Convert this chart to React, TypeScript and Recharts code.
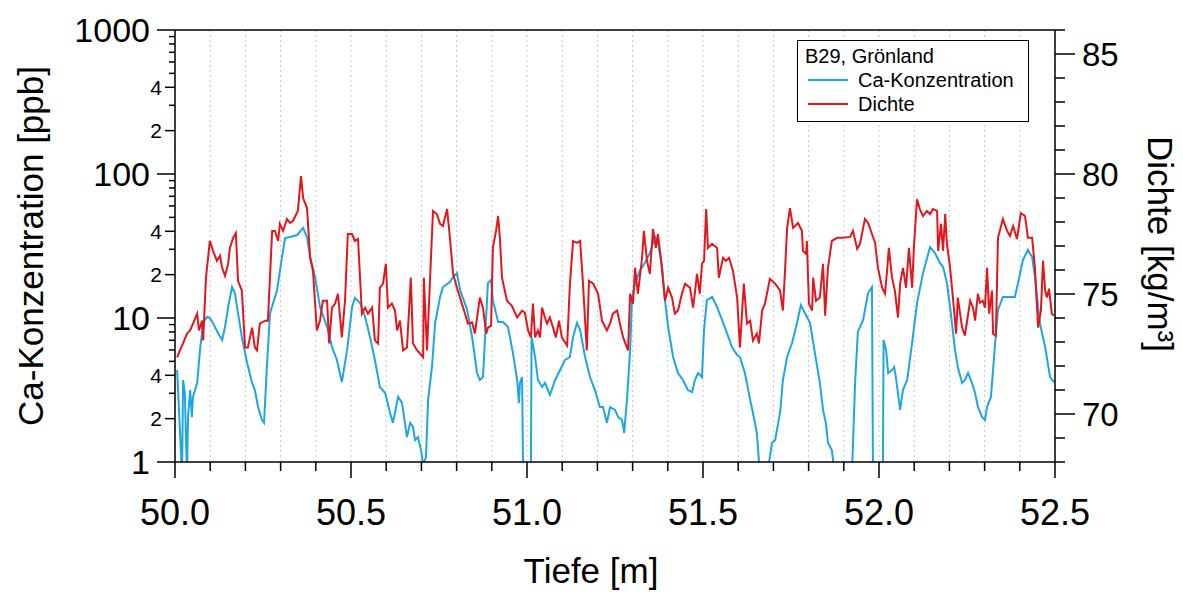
import React from 'react';
import { LineChart, Line, XAxis, YAxis, CartesianGrid, ReferenceLine, Legend, Label } from 'recharts';

// Ca concentration [ppb] vs depth [m] (values < 1 run off the bottom of the log axis)
const caDepth = [
  50.006, 50.020, 50.023, 50.028, 50.034, 50.037, 50.043, 50.048, 50.051, 50.063,
  50.071, 50.080, 50.091, 50.099, 50.108, 50.122, 50.134, 50.142, 50.151, 50.162,
  50.170, 50.179, 50.190, 50.205, 50.219, 50.227, 50.236, 50.247, 50.253, 50.261,
  50.270, 50.290, 50.304, 50.313, 50.327, 50.347, 50.364, 50.375, 50.384, 50.398,
  50.412, 50.432, 50.446, 50.460, 50.474, 50.489, 50.503, 50.511, 50.526, 50.540,
  50.554, 50.568, 50.582, 50.597, 50.611, 50.619, 50.634, 50.645, 50.653, 50.659,
  50.668, 50.676, 50.682, 50.690, 50.699, 50.705, 50.713, 50.719, 50.730, 50.739,
  50.753, 50.761, 50.781, 50.790, 50.801, 50.810, 50.830, 50.844, 50.858, 50.866,
  50.875, 50.881, 50.889, 50.898, 50.903, 50.918, 50.932, 50.946, 50.960, 50.972,
  50.977, 50.980, 50.986, 50.989, 51.011, 51.013, 51.023, 51.031, 51.043, 51.051,
  51.065, 51.080, 51.094, 51.108, 51.122, 51.131, 51.142, 51.151, 51.165, 51.179,
  51.193, 51.207, 51.216, 51.227, 51.236, 51.250, 51.259, 51.270, 51.276, 51.284,
  51.293, 51.298, 51.307, 51.321, 51.335, 51.349, 51.364, 51.372, 51.384, 51.392,
  51.401, 51.415, 51.429, 51.443, 51.457, 51.469, 51.477, 51.486, 51.497, 51.503,
  51.511, 51.526, 51.540, 51.554, 51.568, 51.582, 51.597, 51.605, 51.619, 51.634,
  51.642, 51.653, 51.662, 51.682, 51.696, 51.705, 51.710, 51.719, 51.727, 51.739,
  51.753, 51.767, 51.778, 51.790, 51.804, 51.818, 51.832, 51.841, 51.849, 51.855,
  51.866, 51.875, 51.923, 51.932, 51.940, 51.955, 51.969, 51.980, 51.983, 52.011,
  52.013, 52.020, 52.026, 52.037, 52.043, 52.048, 52.060, 52.068, 52.080, 52.094,
  52.108, 52.125, 52.145, 52.159, 52.173, 52.182, 52.193, 52.202, 52.216, 52.224,
  52.236, 52.244, 52.253, 52.264, 52.273, 52.281, 52.293, 52.301, 52.307, 52.318,
  52.330, 52.338, 52.352, 52.372, 52.386, 52.395, 52.409, 52.423, 52.435, 52.443,
  52.457, 52.472, 52.486, 52.497,
];
const caValue = [
  4.35, 0.8, 3.71, 3.01, 0.8, 2.05, 3.16, 2.05, 2.83, 3.54,
  6.0, 9.23, 10.2, 10.0, 9.2, 7.87, 7.03, 8.66, 11.9, 16.4,
  14.9, 10.8, 7.38, 4.87, 3.54, 3.16, 2.41, 1.96, 1.87, 4.57,
  10.8, 15.6, 26.5, 35.9, 36.5, 37.7, 42.2, 36.5, 26.5, 19.3,
  11.9, 8.66, 6.29, 5.11, 3.59, 6.0, 11.9, 13.8, 12.7, 10.2,
  7.38, 5.11, 3.32, 3.01, 2.19, 1.87, 2.83, 2.57, 1.87, 1.49,
  1.87, 1.75, 1.42, 1.49, 1.21, 0.95, 1.08, 2.7, 4.57, 9.23,
  14.0, 16.4, 17.8, 19.3, 20.5, 15.6, 11.4, 7.38, 4.15, 3.71,
  3.89, 7.38, 17.5, 18.4, 13.3, 9.38, 9.38, 8.66, 5.71, 3.71,
  2.57, 3.54, 3.89, 0.8, 0.8, 7.38, 5.36, 3.71, 3.32, 3.54,
  2.92, 3.71, 4.35, 5.11, 5.36, 7.38, 9.23, 8.25, 5.36, 3.89,
  3.16, 2.41, 2.41, 1.87, 2.41, 2.30, 2.05, 1.96, 1.59, 2.7,
  6.0, 13.3, 17.5, 21.5, 24.1, 28.3, 36.5, 33.2, 22.6, 13.3,
  8.66, 5.36, 4.15, 3.71, 3.16, 3.06, 3.71, 4.15, 3.89, 8.25,
  13.3, 14.0, 11.9, 9.69, 7.87, 6.29, 5.53, 5.36, 4.15, 2.7,
  2.19, 1.59, 0.8, 0.8, 1.36, 1.42, 1.67, 2.19, 3.71, 5.36,
  6.7, 9.23, 12.3, 10.8, 9.23, 5.71, 3.54, 2.30, 1.87, 1.36,
  1.21, 0.8, 0.8, 3.54, 8.0, 9.69, 14.9, 16.4, 0.8, 0.8,
  7.03, 6.0, 4.15, 4.35, 4.57, 3.89, 2.30, 3.16, 3.71, 6.7,
  12.7, 20.5, 31.1, 28.3, 24.1, 22.6, 17.5, 11.9, 6.0, 4.57,
  3.54, 3.71, 4.15, 3.54, 3.01, 2.41, 2.05, 1.96, 2.41, 2.83,
  6.7, 11.4, 14.0, 14.0, 14.0, 17.5, 25.3, 29.7, 26.5, 19.3,
  9.23, 6.29, 3.89, 3.59,
];

// Dichte [kg/m3] vs depth [m]
const dichteDepth = [
  50.006, 50.014, 50.023, 50.034, 50.043, 50.051, 50.063, 50.068, 50.077, 50.080,
  50.088, 50.099, 50.108, 50.119, 50.128, 50.134, 50.142, 50.151, 50.156, 50.165,
  50.173, 50.179, 50.190, 50.199, 50.207, 50.219, 50.227, 50.233, 50.241, 50.256,
  50.264, 50.276, 50.284, 50.293, 50.298, 50.307, 50.318, 50.327, 50.335, 50.349,
  50.358, 50.364, 50.375, 50.384, 50.392, 50.403, 50.412, 50.420, 50.432, 50.438,
  50.446, 50.455, 50.463, 50.474, 50.483, 50.491, 50.503, 50.511, 50.520, 50.531,
  50.540, 50.548, 50.560, 50.568, 50.577, 50.582, 50.591, 50.599, 50.605, 50.616,
  50.625, 50.631, 50.639, 50.648, 50.659, 50.670, 50.676, 50.688, 50.696, 50.705,
  50.707, 50.716, 50.724, 50.733, 50.744, 50.753, 50.761, 50.773, 50.781, 50.790,
  50.801, 50.815, 50.824, 50.832, 50.844, 50.852, 50.866, 50.875, 50.884, 50.889,
  50.898, 50.903, 50.912, 50.918, 50.923, 50.929, 50.943, 50.957, 50.972, 50.986,
  50.994, 51.003, 51.011, 51.017, 51.023, 51.031, 51.037, 51.043, 51.051, 51.057,
  51.065, 51.074, 51.082, 51.091, 51.099, 51.114, 51.122, 51.131, 51.142, 51.151,
  51.159, 51.170, 51.176, 51.188, 51.202, 51.213, 51.227, 51.236, 51.244, 51.256,
  51.264, 51.273, 51.284, 51.287, 51.293, 51.301, 51.307, 51.315, 51.327, 51.332,
  51.341, 51.349, 51.358, 51.366, 51.372, 51.381, 51.392, 51.401, 51.412, 51.420,
  51.429, 51.440, 51.449, 51.463, 51.472, 51.483, 51.491, 51.497, 51.503, 51.509,
  51.514, 51.526, 51.540, 51.545, 51.557, 51.565, 51.574, 51.585, 51.597, 51.605,
  51.616, 51.625, 51.634, 51.642, 51.653, 51.659, 51.668, 51.676, 51.690, 51.705,
  51.719, 51.727, 51.733, 51.739, 51.747, 51.756, 51.770, 51.781, 51.784, 51.793,
  51.795, 51.801, 51.810, 51.813, 51.821, 51.832, 51.841, 51.847, 51.855, 51.866,
  51.881, 51.898, 51.918, 51.926, 51.938, 51.946, 51.960, 51.969, 51.980, 51.989,
  51.997, 52.009, 52.017, 52.023, 52.028, 52.037, 52.045, 52.054, 52.060, 52.068,
  52.077, 52.085, 52.094, 52.099, 52.108, 52.116, 52.125, 52.136, 52.145, 52.153,
  52.165, 52.168, 52.176, 52.182, 52.188, 52.193, 52.202, 52.210, 52.219, 52.224,
  52.236, 52.244, 52.259, 52.267, 52.273, 52.281, 52.287, 52.295, 52.301, 52.307,
  52.313, 52.321, 52.324, 52.332, 52.338, 52.352, 52.364, 52.372, 52.381, 52.392,
  52.403, 52.415, 52.423, 52.435, 52.443, 52.452, 52.460, 52.466, 52.472, 52.477,
  52.483, 52.491, 52.497,
];
const dichteValue = [
  72.36, 72.65, 72.94, 73.35, 73.48, 73.77, 74.18, 73.48, 73.89, 73.06,
  75.68, 77.21, 76.80, 76.38, 76.59, 76.09, 75.76, 76.26, 76.92, 77.34,
  77.54, 75.55, 75.14, 72.77, 72.77, 73.60, 72.77, 72.65, 73.77, 73.89,
  73.89, 77.63, 77.63, 77.21, 77.92, 77.63, 78.12, 77.96, 78.04, 78.46,
  79.91, 79.0, 78.58, 76.51, 75.97, 73.48, 73.89, 74.72, 74.72, 72.94,
  74.43, 74.60, 75.01, 73.19, 74.72, 77.50, 77.50, 77.21, 77.29, 74.18,
  74.43, 74.18, 74.43, 73.06, 72.94, 75.26, 75.43, 76.26, 74.43, 74.60,
  74.31, 73.48, 73.89, 72.65, 72.77, 75.68, 72.94, 72.65, 72.52, 72.36,
  75.68, 72.65, 75.43, 78.46, 78.33, 77.92, 77.83, 78.54, 77.34, 75.84,
  75.26, 74.60, 74.18, 73.77, 73.81, 73.35, 74.85, 74.43, 73.35, 73.60,
  73.68, 76.92, 77.63, 78.25, 77.34, 75.68, 74.72, 74.51, 74.02, 74.31,
  74.22, 73.48, 73.19, 74.60, 73.19, 73.48, 73.19, 74.43, 74.02, 73.77,
  74.02, 73.60, 73.19, 73.89, 73.19, 72.85, 75.43, 77.21, 77.13, 77.21,
  75.43, 72.65, 75.55, 75.43, 75.01, 73.89, 73.48, 73.77, 74.18, 74.31,
  73.77, 73.19, 72.77, 72.65, 75.01, 74.60, 76.09, 75.01, 76.51, 77.63,
  76.38, 75.84, 77.71, 76.92, 77.50, 76.38, 74.72, 75.26, 74.85, 74.18,
  74.31, 75.01, 75.43, 75.26, 74.43, 75.84, 75.01, 76.26, 76.38, 78.54,
  76.92, 77.09, 76.92, 75.68, 76.51, 76.38, 76.51, 75.97, 74.85, 72.77,
  75.43, 73.77, 73.89, 73.06, 73.35, 72.94, 74.31, 74.60, 75.63, 75.43,
  75.14, 74.31, 75.97, 77.75, 78.58, 77.75, 77.96, 77.63, 76.80, 76.67,
  77.21, 74.60, 74.31, 75.68, 74.72, 74.85, 76.26, 74.10, 76.09, 77.21,
  77.34, 77.34, 77.38, 77.63, 76.88, 77.09, 78.12, 77.96, 77.50, 77.13,
  76.09, 75.26, 75.01, 75.97, 76.92, 75.68, 75.14, 74.02, 75.43, 76.09,
  75.26, 76.92, 75.26, 76.92, 78.95, 78.54, 78.25, 78.46, 78.33, 78.54,
  78.46, 76.80, 77.92, 76.80, 78.33, 77.09, 76.09, 74.85, 73.35, 74.85,
  73.60, 73.27, 74.72, 74.43, 73.89, 75.01, 74.64, 74.72, 74.43, 76.09,
  74.18, 75.14, 73.35, 73.27, 77.34, 78.12, 77.63, 77.42, 77.83, 77.29,
  78.37, 78.25, 77.34, 77.34, 76.09, 73.60, 74.31, 76.38, 75.14, 74.85,
  75.22, 74.18, 74.10,
];

const xTicks = [
  50.0, 50.1, 50.2, 50.3, 50.4, 50.5, 50.6, 50.7, 50.8, 50.9,
  51.0, 51.1, 51.2, 51.3, 51.4, 51.5, 51.6, 51.7, 51.8, 51.9,
  52.0, 52.1, 52.2, 52.3, 52.4, 52.5,
];
const caTicks = [
  1, 2, 3, 4, 5, 6, 7, 8, 9,
  10, 20, 30, 40, 50, 60, 70, 80, 90,
  100, 200, 300, 400, 500, 600, 700, 800, 900, 1000,
];
const caMajor = [1, 10, 100, 1000];
const caMinorLabeled = [2, 4, 20, 40, 200, 400];
const dichteTicks = [68, 69, 70, 71, 72, 73, 74, 75, 76, 77, 78, 79, 80, 81, 82, 83, 84, 85, 86];
const dichteLabeled = [70, 75, 80, 85];

const caData = caDepth.map((d, i) => ({ depth: d, ca: caValue[i] }));
const dichteData = dichteDepth.map((d, i) => ({ depth: d, dichte: dichteValue[i] }));

const FONT = '"Liberation Sans", Arial, Helvetica, sans-serif';
const BLUE = '#1ea6e2';
const RED = '#e2171d';

const LeftTick = (props: any) => {
  const { x, y, payload } = props;
  const v = payload.value;
  const major = caMajor.includes(v);
  const labeled = major || caMinorLabeled.includes(v);
  const len = major ? 18 : labeled ? 10 : 6;
  return (
    <g>
      <line x1={x} x2={x - len} y1={y} y2={y} stroke="#000" strokeWidth={1.5} />
      {labeled && (
        <text x={x - len - (major ? 7 : 3)} y={y} textAnchor="end" dominantBaseline="central"
          fontFamily={FONT} fontSize={major ? 34 : 21} fill="#000">
          {major ? v : String(v).charAt(0)}
        </text>
      )}
    </g>
  );
};

const RightTick = (props: any) => {
  const { x, y, payload } = props;
  const v = payload.value;
  const labeled = dichteLabeled.includes(v);
  const len = labeled ? 20 : 10;
  return (
    <g>
      <line x1={x} x2={x + len} y1={y} y2={y} stroke="#000" strokeWidth={1.5} />
      {labeled && (
        <text x={x + len + 7} y={y} textAnchor="start" dominantBaseline="central"
          fontFamily={FONT} fontSize={33} fill="#000">
          {v}
        </text>
      )}
    </g>
  );
};

const BottomTick = (props: any) => {
  const { x, y, payload } = props;
  const v = payload.value;
  const major = Math.abs(v * 2 - Math.round(v * 2)) < 1e-6;
  return (
    <g>
      <line x1={x} x2={x} y1={y} y2={y + (major ? 16 : 9)} stroke="#000" strokeWidth={1.5} />
      {major && (
        <text x={x} y={y + 50} textAnchor="middle" dominantBaseline="central"
          fontFamily={FONT} fontSize={36} fill="#000">
          {v.toFixed(1)}
        </text>
      )}
    </g>
  );
};

const LegendBox = () => (
  <div style={{
    width: 232, height: 82, boxSizing: 'border-box', border: '1px solid #000', background: '#fff',
    fontFamily: FONT, fontSize: 20, lineHeight: '24px', color: '#000', padding: '3px 0 0 7px',
    whiteSpace: 'nowrap',
  }}>
    <div>B29, Grönland</div>
    {[{ name: 'Ca-Konzentration', color: BLUE }, { name: 'Dichte', color: RED }].map((it) => (
      <div key={it.name} style={{ display: 'flex', alignItems: 'center' }}>
        <span style={{ display: 'inline-block', width: 40, height: 2, background: it.color, margin: '0 10px 0 3px' }} />
        <span>{it.name}</span>
      </div>
    ))}
  </div>
);

const App: React.FC = () => {
  return (
    <div style={{ position: 'absolute', left: 0, top: 0, background: '#fff' }}>
      <LineChart width={1183} height={592} margin={{ top: 30, right: 0, bottom: 0, left: 0 }}>
        <CartesianGrid yAxisId="left" vertical horizontal={false} stroke="#c8c8c8" strokeDasharray="2 3" />
        <XAxis
          dataKey="depth" type="number" domain={[50, 52.5]} ticks={xTicks} interval={0}
          height={130} tickSize={0} tickMargin={0} tick={<BottomTick />}
          axisLine={{ stroke: '#000', strokeWidth: 1.5 }}
        >
          <Label content={() => (
            <text x={591} y={570} textAnchor="middle" dominantBaseline="central" fontFamily={FONT} fontSize={35} fill="#000">
              Tiefe [m]
            </text>
          )} />
        </XAxis>
        <YAxis
          yAxisId="left" orientation="left" scale="log" domain={[1, 1000]} allowDataOverflow
          ticks={caTicks} interval={0} width={175} tickSize={0} tickMargin={0} tick={<LeftTick />}
          axisLine={{ stroke: '#000', strokeWidth: 1.5 }}
        >
          <Label content={() => (
            <text x={30} y={246} transform="rotate(-90 30 246)" textAnchor="middle" dominantBaseline="central"
              fontFamily={FONT} fontSize={35} fill="#000">
              Ca-Konzentration [ppb]
            </text>
          )} />
        </YAxis>
        <YAxis
          yAxisId="right" orientation="right" domain={[68, 86]} allowDataOverflow
          ticks={dichteTicks} interval={0} width={128} tickSize={0} tickMargin={0} tick={<RightTick />}
          axisLine={{ stroke: '#000', strokeWidth: 1.5 }}
        >
          <Label content={() => (
            <text x={1160} y={244} transform="rotate(90 1160 244)" textAnchor="middle" dominantBaseline="central"
              fontFamily={FONT} fontSize={35} fill="#000">
              Dichte [kg/m³]
            </text>
          )} />
        </YAxis>
        <ReferenceLine yAxisId="left" y={1000} stroke="#000" strokeWidth={1.5} />
        <Line
          yAxisId="left" data={caData} dataKey="ca" type="linear" stroke={BLUE} strokeWidth={2}
          dot={false} activeDot={false} isAnimationActive={false} name="Ca-Konzentration"
        />
        <Line
          yAxisId="right" data={dichteData} dataKey="dichte" type="linear" stroke={RED} strokeWidth={2}
          dot={false} activeDot={false} isAnimationActive={false} name="Dichte"
        />
        <Legend
          layout="vertical" align="center" verticalAlign="middle"
          wrapperStyle={{ left: 797, top: 40, width: 232, height: 82 }}
          content={() => <LegendBox />}
        />
      </LineChart>
    </div>
  );
};

export default App;
